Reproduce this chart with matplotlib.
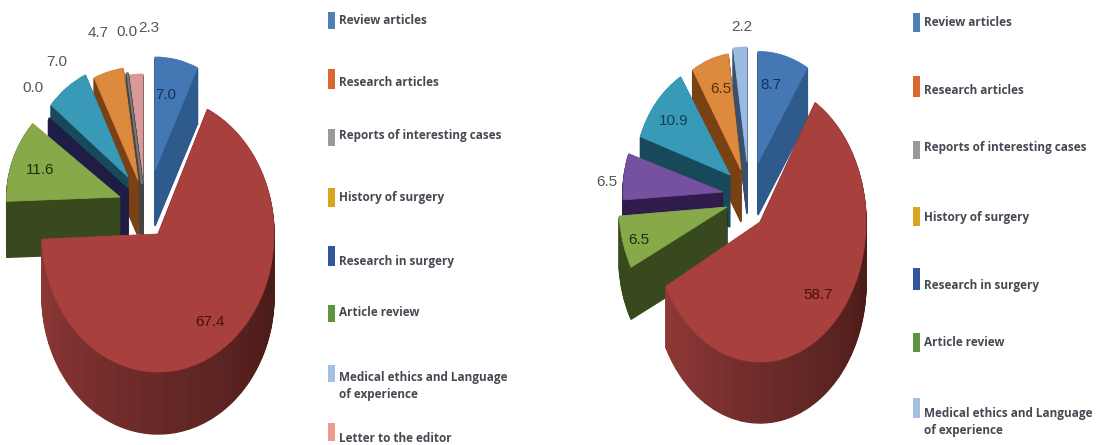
import numpy as np
import matplotlib
matplotlib.use("Agg")
import matplotlib.pyplot as plt
from matplotlib.colors import LinearSegmentedColormap
from matplotlib.patches import Rectangle
from matplotlib.transforms import Affine2D

# ---- data (pie order, clockwise from 12 o'clock) ----
left_values = [7.0, 67.4, 11.6, 0.0, 7.0, 4.7, 0.0, 2.3]
right_values = [8.7, 58.7, 0.0, 6.5, 6.5, 10.9, 6.5, 2.2]

left_legend = ["Review articles", "Research articles", "Reports of interesting cases",
               "History of surgery", "Research in surgery", "Article review",
               "Medical ethics and Language\nof experience", "Letter to the editor"]
right_legend = left_legend[:7]
legend_colors = ["#4f7fb5", "#d9682f", "#9a9a9a", "#d9a520", "#34559f", "#5f943f", "#a3c0e0", "#ee9a90"]

# ---- style / layout ----
BLUE = ("#4478b4", "#2f5a8c")
RED = ("#a8403d", None)
GREEN = ("#87a94a", "#37491d")
NAVY = ("#1f1d45", "#1f1d45")
TEAL = ("#399ab8", "#17495a")
ORANGE = ("#dd8a3e", "#7a4114")
PINK = ("#d79a98", "#3f3f4a")
PURPLE = ("#76519f", "#2f1c4c")
LBLUE = ("#9cbbe2", "#39506f")
NONE = ("#777777", "#444444")

left_style = [BLUE, RED, GREEN, NAVY, TEAL, ORANGE, NONE, PINK]
left_apex = [(155, 170), (158, 234), (120, 197), (128, 190), (128, 177), (138, 180), (142, 184), (143, 187)]
left_scale = [(0.97, 1.0), (1, 1), (1.10, 1.02), (1, 1), (0.97, 1), (1, 1), (1, 1), (1, 1)]
left_order = [7, 6, 5, 4, 3, 2, 0, 1]
left_geo = dict(rx=103, ry=113, depth=56, red_rx=116, red_ry=138, red_depth=62)

right_style = [BLUE, RED, NAVY, GREEN, PURPLE, TEAL, ORANGE, LBLUE]
right_apex = [(758, 163), (760, 222), (727, 212), (727, 207), (723, 192), (730, 175), (741, 170), (747, 162)]
right_scale = [(0.95, 0.97), (1, 1), (0.1, 0.1), (1.08, 1.14), (1, 1), (0.95, 1.0), (0.93, 1.02), (1, 1)]
right_order = [7, 6, 5, 4, 2, 3, 0, 1]
right_geo = dict(rx=100, ry=115, depth=52, red_rx=106, red_ry=140, red_depth=61)

left_label_xy = [(166, 95), (210, 322), (40, 170), (33, 88), (57, 62), (98, 33), (127, 32), (149, 28)]
left_label_c = ["#12305a", "#4a1010", "#1f2f0a", "#555555", "#555555", "#555555", "#555555", "#555555"]
right_label_xy = [(771, 85), (818, 295), None, (639, 240), (607, 182), (674, 121), (721, 89), (742, 27)]
right_label_c = ["#12305a", "#4a1010", None, "#1f2f0a", "#555555", "#12405a", "#5a2d08", "#555555"]

left_swatch = [(12, 29), (69, 89), (129, 146), (188, 207), (246, 266), (305, 322), (365, 382), (423, 441)]
left_text_y = [20, 83, 135, 197, 261, 313, 386, 438]
right_swatch = [(13, 32), (76, 97), (141, 159), (207, 226), (268, 290), (333, 352), (398, 418)]
right_text_y = [22, 90, 148, 217, 285, 342, 422]

NARROW = ["Liberation Sans Narrow", "Liberation Sans", "DejaVu Sans"]
LEGEND_FONT = ["Open Sans", "DejaVu Sans"]

fig = plt.figure(figsize=(11.09, 4.45), dpi=100, facecolor="white")
ax = fig.add_axes([0, 0, 1, 1])


def slice_at(frac, start, colors, lw, x, y, rx, ry, edge=None):
    """One pie call for a slice; frac may be split in sub-wedges."""
    fr = np.atleast_1d(frac)
    wedges, *_ = ax.pie(fr, normalize=False, startangle=start, counterclock=False,
                        colors=colors, labeldistance=None,
                        wedgeprops=dict(linewidth=lw, edgecolor=edge))
    tr = Affine2D().scale(rx, -ry).translate(x, y) + ax.transData
    for w, c in zip(wedges, colors):
        w.set_transform(tr)
        w.set_edgecolor(edge if edge is not None else c)


red_shades = LinearSegmentedColormap.from_list("r", ["#471a18", "#4c1c1a", "#6a2a28", "#903836"])


def draw_pie(values, styles, apex, scale, order, geo):
    vals = np.array(values) / 100.0
    starts = 90 - 360 * np.concatenate([[0], np.cumsum(vals)[:-1]])
    for i in order:
        top, side = styles[i]
        x, y = apex[i]
        is_red = side is None
        rx = (geo["red_rx"] if is_red else geo["rx"]) * scale[i][0]
        ry = (geo["red_ry"] if is_red else geo["ry"]) * scale[i][1]
        depth = geo["red_depth"] if is_red else geo["depth"]
        for d in range(depth, 0, -1):
            if is_red:
                n = 40
                cols = [red_shades(k / (n - 1)) for k in range(n)]
                slice_at(np.full(n, vals[i] / n), starts[i], cols, 1.0, x, y + d, rx, ry)
            elif vals[i] == 0:
                slice_at(vals[i], starts[i], [side], 2.5, x, y + d, rx, ry, edge=side)
            else:
                slice_at(vals[i], starts[i], [side], 1.0, x, y + d, rx, ry)
        if vals[i] == 0:
            slice_at(vals[i], starts[i], [top], 1.5, x, y, rx, ry, edge=top)
        else:
            slice_at(vals[i], starts[i], [top], 0.6, x, y, rx, ry)


draw_pie(left_values, left_style, left_apex, left_scale, left_order, left_geo)
draw_pie(right_values, right_style, right_apex, right_scale, right_order, right_geo)

ax.set_aspect("auto")
ax.set_xlim(0, 1109)
ax.set_ylim(445, 0)
ax.axis("off")

for vals, xy, cs in ((left_values, left_label_xy, left_label_c),
                     (right_values, right_label_xy, right_label_c)):
    for v, p, c in zip(vals, xy, cs):
        if p is not None:
            ax.text(p[0], p[1], f"{v:.1f}", color=c, ha="center", va="center",
                    fontsize=11, family=NARROW)

for names, sw, ty, sx, tx in ((left_legend, left_swatch, left_text_y, 328, 339),
                              (right_legend, right_swatch, right_text_y, 913, 924)):
    for name, (y0, y1), t, c in zip(names, sw, ty, legend_colors):
        ax.add_patch(Rectangle((sx, y0), 7, y1 - y0, facecolor=c, edgecolor="none"))
        ax.text(tx, t, name, color="#444a52", ha="left", va="center", fontsize=8.5,
                fontweight="bold", family=LEGEND_FONT, linespacing=1.4)

fig.savefig("out.png", dpi=100, facecolor="white")
